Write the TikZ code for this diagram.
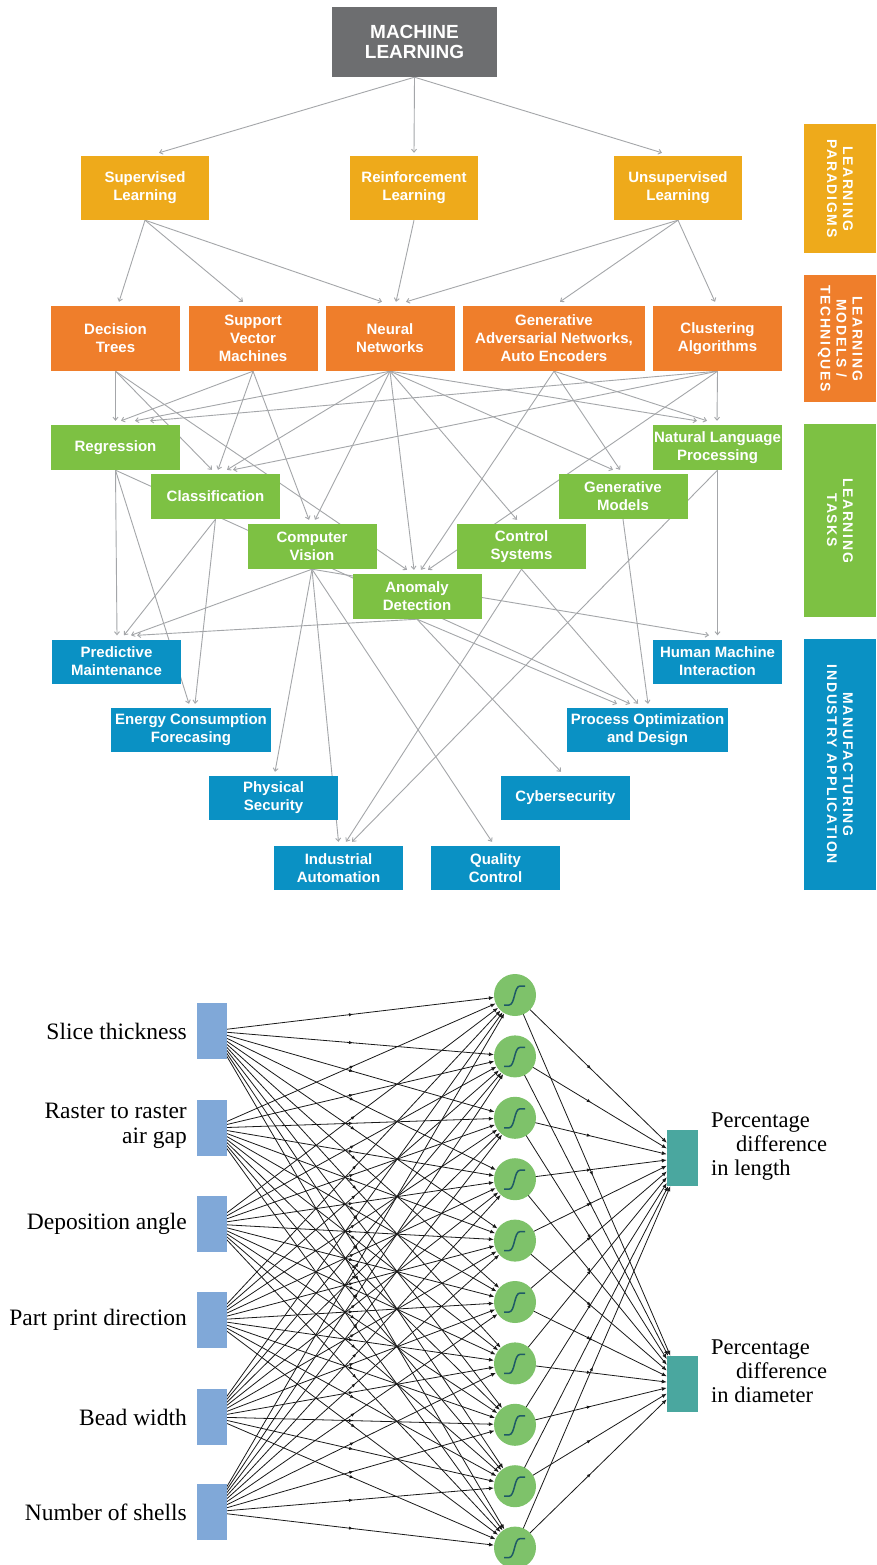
\documentclass[tikz,border=0pt]{standalone}
\usepackage{fontspec}
\setmainfont{Liberation Sans}
\newfontfamily\nnfont{Liberation Serif}
\newfontfamily\sidefont{Liberation Sans}[LetterSpace=12]
\usetikzlibrary{arrows.meta,decorations.markings}
\pgfdeclarelayer{bottom}
\pgfdeclarelayer{edges}
\pgfsetlayers{bottom,edges,main}
\definecolor{mlgray}{HTML}{6D6E70}
\definecolor{paragold}{HTML}{EEAA1B}
\definecolor{modorange}{HTML}{EF7E2B}
\definecolor{taskgreen}{HTML}{7DC143}
\definecolor{appblue}{HTML}{0A91C4}
\definecolor{edgegray}{HTML}{A4A6A9}
\definecolor{inblue}{HTML}{80A8D8}
\definecolor{neurongreen}{HTML}{7EC26A}
\definecolor{outteal}{HTML}{4AA79F}
\definecolor{sigteal}{HTML}{1F5A66}
\begin{document}
\begin{tikzpicture}[x=1pt,y=-1pt,
  box/.style={rectangle, inner sep=0pt, align=center, text=white,
    font=\bfseries\fontsize{15}{18}\selectfont},
  mlbox/.style={box, fill=mlgray, minimum width=165pt, minimum height=70pt,
    font=\bfseries\fontsize{19}{20}\selectfont},
  para/.style={box, fill=paragold, minimum width=128pt, minimum height=64pt},
  model/.style={box, fill=modorange, minimum width=129pt, minimum height=65pt},
  task/.style={box, fill=taskgreen, minimum width=129pt, minimum height=45pt},
  app/.style={box, fill=appblue, minimum width=129pt, minimum height=44pt},
  side/.style={rectangle, inner sep=0pt, minimum height=72pt, align=center,
    text=white, rotate=-90, font=\sidefont\bfseries\fontsize{14}{16}\selectfont},
  conn/.style={draw=edgegray, line width=0.9pt, -{Straight Barb[length=3pt,width=5pt]}},
  inbox/.style={rectangle, fill=inblue, minimum width=30pt, minimum height=56pt, inner sep=0pt},
  outbox/.style={rectangle, fill=outteal, minimum width=31pt, minimum height=56pt, inner sep=0pt},
  neuron/.style={circle, fill=neurongreen, minimum size=42pt, inner sep=0pt},
  inlabel/.style={inner sep=0pt, align=right, font=\nnfont\fontsize{23.5}{25}\selectfont},
  outlabel/.style={inner sep=0pt, align=left, font=\nnfont\fontsize{22.5}{24}\selectfont},
  sig/.style={draw=sigteal, line width=1.5pt},
  nnedge/.style={draw=black!90, line width=0.8pt, -{Latex[length=5pt,width=4pt]},
    postaction={decorate},
    decoration={markings, mark=at position 0.5 with {\arrow{Latex[length=4pt,width=3.5pt]}}}}
]
\useasboundingbox (0,0) rectangle (876,1565);
\begin{pgfonlayer}{bottom}
\fill[white] (0,0) rectangle (876,1565);
\end{pgfonlayer}

% ---------- top hierarchy ----------
\node[mlbox] (ml) at (414.5,42) {MACHINE\\LEARNING};

\node[para] (sup)   at (145,188)   {Supervised\\Learning};
\node[para] (rein)  at (414,188)   {Reinforcement\\Learning};
\node[para] (unsup) at (678,188)   {Unsupervised\\Learning};

\node[model] (dt)   at (115.5,338.5) {Decision\\Trees};
\node[model] (svm)  at (253,338.5)   {Support\\Vector\\Machines};
\node[model] (nn)   at (390,338.5)   {Neural\\Networks};
\node[model, minimum width=182pt] (gan) at (554,338.5) {Generative\\Adversarial Networks,\\Auto Encoders};
\node[model] (clus) at (717.5,338.5) {Clustering\\Algorithms};

\node[task] (reg) at (115.5,447.5) {Regression};
\node[task] (nlp) at (717.5,447.5) {Natural Language\\Processing};
\node[task] (cls) at (215.5,496.5) {Classification};
\node[task] (gen) at (623,496.5)   {Generative\\Models};
\node[task] (cv)  at (312,546.5)   {Computer\\Vision};
\node[task] (cs)  at (521.5,546.5) {Control\\Systems};
\node[task] (ad)  at (417,596.5)   {Anomaly\\Detection};

\node[app] (pm)  at (116.5,661.5) {Predictive\\Maintenance};
\node[app] (hmi) at (717.5,661.5) {Human Machine\\Interaction};
\node[app, minimum width=160pt] (ecf) at (191,730)   {Energy Consumption\\Forecasing};
\node[app, minimum width=161pt] (pod) at (647.5,730) {Process Optimization\\and Design};
\node[app] (ps)  at (273.5,798) {Physical\\Security};
\node[app] (cyb) at (565.5,798) {Cybersecurity};
\node[app] (ia)  at (338.5,868) {Industrial\\Automation};
\node[app] (qc)  at (495.5,868) {Quality\\Control};

\node[side, fill=paragold,   minimum width=129pt] (sp) at (840,188.5) {LEARNING\\PARADIGMS};
\node[side, fill=modorange,  minimum width=127pt] (sm) at (840,338.5) {LEARNING\\MODELS /\\TECHNIQUES};
\node[side, fill=taskgreen,  minimum width=193pt] (st) at (840,520.5) {LEARNING\\TASKS};
\node[side, fill=appblue,    minimum width=251pt] (sa) at (840,764.5) {MANUFACTURING\\INDUSTRY APPLICATION};

\begin{pgfonlayer}{edges}
% level 1
\draw[conn] (ml.south) -- ([xshift=14pt,yshift=3pt]sup.north);
\draw[conn] (ml.south) -- ([yshift=3pt]rein.north);
\draw[conn] (ml.south) -- ([xshift=-16pt,yshift=3pt]unsup.north);
% level 2
\draw[conn] (sup.south) -- ([xshift=3.5pt,yshift=4pt]dt.north);
\draw[conn] (sup.south) -- ([xshift=-10pt,yshift=4pt]svm.north);
\draw[conn] (sup.south) -- ([xshift=-8pt,yshift=4pt]nn.north);
\draw[conn] (rein.south) -- ([xshift=6pt,yshift=4pt]nn.north);
\draw[conn] (unsup.south) -- ([xshift=16pt,yshift=4pt]nn.north);
\draw[conn] (unsup.south) -- ([xshift=6pt,yshift=4pt]gan.north);
\draw[conn] (unsup.south) -- ([xshift=-2.5pt,yshift=4pt]clus.north);
% level 3
\draw[conn] (dt.south)   -- ([xshift=0pt,yshift=4pt]reg.north);
\draw[conn] (svm.south)  -- ([xshift=5.5pt,yshift=4pt]reg.north);
\draw[conn] (nn.south)   -- ([xshift=19.5pt,yshift=4pt]reg.north);
\draw[conn] (clus.south) -- ([xshift=34.5pt,yshift=4pt]reg.north);
\draw[conn] (dt.south)   -- ([xshift=-3.5pt,yshift=4pt]cls.north);
\draw[conn] (svm.south)  -- ([xshift=2.5pt,yshift=4pt]cls.north);
\draw[conn] (nn.south)   -- ([xshift=11.5pt,yshift=4pt]cls.north);
\draw[conn] (clus.south) -- ([xshift=17.5pt,yshift=4pt]cls.north);
\draw[conn] (svm.south)  -- ([xshift=-3pt,yshift=4pt]cv.north);
\draw[conn] (nn.south)   -- ([xshift=3pt,yshift=4pt]cv.north);
\draw[conn] (dt.south)   -- ([xshift=-10pt,yshift=4pt]ad.north);
\draw[conn] (nn.south)   -- ([xshift=-3pt,yshift=4pt]ad.north);
\draw[conn] (gan.south)  -- ([xshift=4pt,yshift=4pt]ad.north);
\draw[conn] (clus.south) -- ([xshift=11pt,yshift=4pt]ad.north);
\draw[conn] (nn.south)   -- ([xshift=-4.5pt,yshift=4pt]cs.north);
\draw[conn] (nn.south)   -- ([xshift=-10pt,yshift=4pt]gen.north);
\draw[conn] (gan.south)  -- ([xshift=-3pt,yshift=4pt]gen.north);
\draw[conn] (nn.south)   -- ([xshift=-20.5pt,yshift=4pt]nlp.north);
\draw[conn] (gan.south)  -- ([xshift=-10.5pt,yshift=4pt]nlp.north);
\draw[conn] (clus.south) -- ([xshift=-0.5pt,yshift=4pt]nlp.north);
% level 4
\draw[conn] (reg.south) -- ([xshift=0.5pt,yshift=4pt]pm.north);
\draw[conn] (cls.south) -- ([xshift=7.5pt,yshift=4pt]pm.north);
\draw[conn] (cv.south)  -- ([xshift=14.5pt,yshift=4pt]pm.north);
\draw[conn] (ad.south)  -- ([xshift=20.5pt,yshift=4pt]pm.north);
\draw[conn] (reg.south) -- ([xshift=-2pt,yshift=4pt]ecf.north);
\draw[conn] (cls.south) -- ([xshift=4pt,yshift=4pt]ecf.north);
\draw[conn] (cv.south)  -- ([xshift=-8.5pt,yshift=4pt]hmi.north);
\draw[conn] (nlp.south) -- ([xshift=0pt,yshift=4pt]hmi.north);
\draw[conn] (ad.south)  -- ([xshift=-30.5pt,yshift=4pt]pod.north);
\draw[conn] (reg.south) -- ([xshift=-17.5pt,yshift=4pt]pod.north);
\draw[conn] (cs.south)  -- ([xshift=-9.5pt,yshift=4pt]pod.north);
\draw[conn] (gen.south) -- ([xshift=0.5pt,yshift=4pt]pod.north);
\draw[conn] (cv.south)  -- ([xshift=1.5pt,yshift=4pt]ps.north);
\draw[conn] (ad.south)  -- ([xshift=-4.5pt,yshift=4pt]cyb.north);
\draw[conn] (cv.south)  -- ([xshift=0pt,yshift=4pt]ia.north);
\draw[conn] (cs.south)  -- ([xshift=7.5pt,yshift=4pt]ia.north);
\draw[conn] (nlp.south) -- ([xshift=13.5pt,yshift=4pt]ia.north);
\draw[conn] (cv.south)  -- ([xshift=-3.5pt,yshift=4pt]qc.north);
\end{pgfonlayer}

% ---------- neural network ----------
\node[inbox] (i1) at (212,1031) {};
\node[inbox] (i2) at (212,1128) {};
\node[inbox] (i3) at (212,1224) {};
\node[inbox] (i4) at (212,1320) {};
\node[inbox] (i5) at (212,1417) {};
\node[inbox] (i6) at (212,1512) {};

\node[inlabel, anchor=east] (l1) at (187,1031) {Slice thickness};
\node[inlabel, anchor=east] (l2) at (187,1126) {Raster to raster\\air gap};
\node[inlabel, anchor=east] (l3) at (187,1224) {Deposition angle};
\node[inlabel, anchor=east] (l4) at (187,1320) {Part print direction};
\node[inlabel, anchor=east] (l5) at (187,1417) {Bead width};
\node[inlabel, anchor=east] (l6) at (187,1512) {Number of shells};

\foreach \j in {1,...,10} {
  \node[neuron] (h\j) at (515,{995+61.4*(\j-1)}) {};
  \begin{scope}[shift={(h\j.center)}]
    \draw[sig] (-11,10) -- (-6,10) .. controls (0,10) and (-1,-9) .. (5,-9) -- (10,-9);
  \end{scope}
}

\node[outbox] (o1) at (682.5,1158) {};
\node[outbox] (o2) at (682.5,1384) {};
\node[outlabel, anchor=west] (ol1) at (711,1147) {Percentage\\\hspace*{25pt}difference\\in length};
\node[outlabel, anchor=west] (ol2) at (711,1371) {Percentage\\\hspace*{25pt}difference\\in diameter};

\begin{pgfonlayer}{edges}
\foreach \i in {1,...,6} {
  \foreach \j in {1,...,10} {
    \draw[nnedge] (i\i.center) -- (h\j);
  }
}
\foreach \j in {1,...,10} {
  \foreach \k in {1,2} {
    \draw[nnedge] (h\j.center) -- (o\k);
  }
}
\end{pgfonlayer}
\end{tikzpicture}
\end{document}
